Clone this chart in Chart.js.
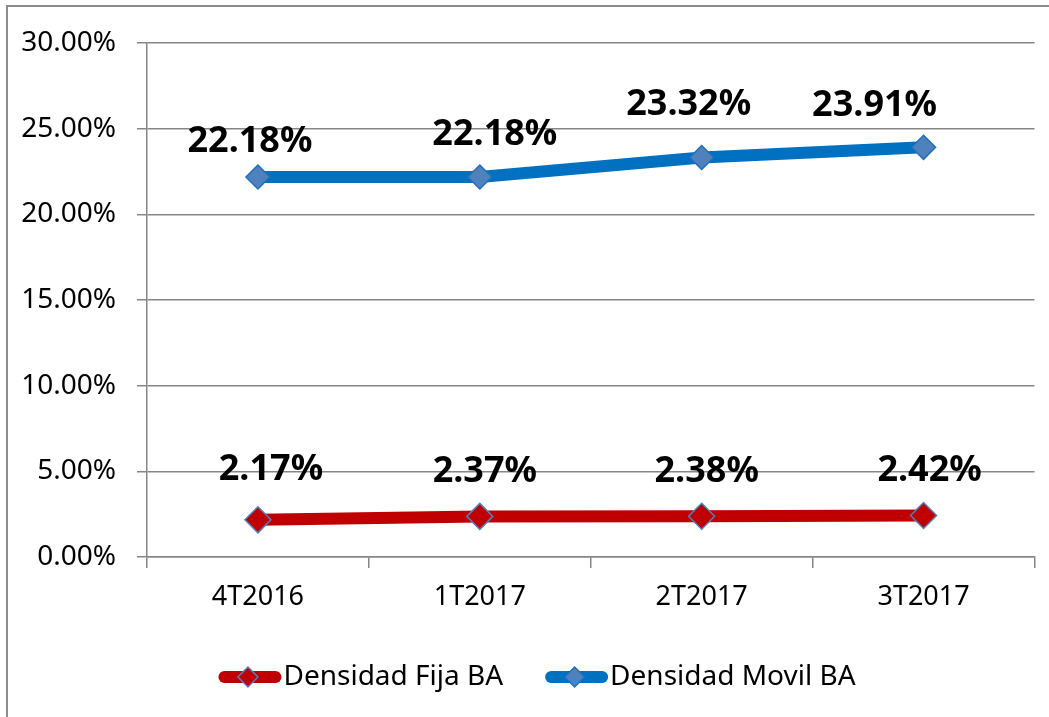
<!DOCTYPE html>
<html>
<head>
<meta charset="utf-8">
<script src="https://cdn.jsdelivr.net/npm/chart.js@4.4.0/dist/chart.umd.min.js"></script>
<style>
html,body{margin:0;padding:0;background:#fff;}
#wrap{position:relative;width:1049px;height:717px;}
canvas{display:block;}
</style>
</head>
<body>
<div id="wrap"><canvas id="c" width="1049" height="717"></canvas></div>
<script>
// ---- data ----
const categories = ['4T2016', '1T2017', '2T2017', '3T2017'];
const seriesNames = ['Densidad Fija BA', 'Densidad Movil BA'];
const fijaValues = [2.17, 2.37, 2.38, 2.42];
const movilValues = [22.18, 22.18, 23.32, 23.91];
const yTickValues = [0, 5, 10, 15, 20, 25, 30];

// label placement nudges (dx, dy above point) – style only
const fijaLabelNudge = [[13, 53], [5, 47], [5, 47], [6, 48]];
const movilLabelNudge = [[-8, 38], [15, 45], [-13, 55], [-49, 44]];

const GRID = '#868686';
const FONT = '"Noto Sans", "Open Sans", sans-serif';

const framePlugin = {
  id: 'frame',
  beforeDraw(chart) {
    const ctx = chart.ctx;
    ctx.save();
    ctx.fillStyle = '#fff';
    ctx.fillRect(0, 0, chart.width, chart.height);
    ctx.strokeStyle = '#8c8c8c';
    ctx.lineWidth = 2;
    ctx.strokeRect(7, 6, 1200, 900);
    ctx.restore();
  }
};

const dataLabelPlugin = {
  id: 'dataLabels',
  afterDatasetsDraw(chart) {
    const ctx = chart.ctx;
    const nudges = [fijaLabelNudge, movilLabelNudge];
    ctx.save();
    ctx.font = 'bold 36px ' + FONT;
    ctx.fillStyle = '#000';
    ctx.textAlign = 'center';
    ctx.textBaseline = 'alphabetic';
    chart.data.datasets.forEach((ds, i) => {
      const meta = chart.getDatasetMeta(i);
      meta.data.forEach((pt, j) => {
        const n = nudges[i][j];
        ctx.fillText(ds.data[j].toFixed(2) + '%', pt.x + n[0], pt.y - n[1] + 13);
      });
    });
    ctx.restore();
  }
};

const legendPlugin = {
  id: 'customLegend',
  afterDraw(chart) {
    const ctx = chart.ctx;
    ctx.save();
    ctx.font = '28px ' + FONT;
    const lineLen = 63, gapText = 2, gapItems = 42;
    const items = chart.data.datasets.map(ds => ({ ds, w: lineLen + gapText + ctx.measureText(ds.label).width }));
    const total = items.reduce((a, b) => a + b.w, 0) + gapItems * (items.length - 1);
    let x = 537 - total / 2;
    const y = 677;
    items.forEach(it => {
      const ds = it.ds;
      ctx.strokeStyle = ds.borderColor;
      ctx.lineWidth = 12;
      ctx.lineCap = 'round';
      ctx.beginPath();
      ctx.moveTo(x + 6, y);
      ctx.lineTo(x + lineLen - 6, y);
      ctx.stroke();
      const cx = x + lineLen / 2 - 2, r = 10;
      ctx.beginPath();
      ctx.moveTo(cx, y - r); ctx.lineTo(cx + r, y); ctx.lineTo(cx, y + r); ctx.lineTo(cx - r, y);
      ctx.closePath();
      ctx.fillStyle = ds.pointBackgroundColor;
      ctx.fill();
      ctx.lineWidth = 1.5;
      ctx.lineCap = 'butt';
      ctx.strokeStyle = ds.pointBorderColor;
      ctx.stroke();
      ctx.fillStyle = '#000';
      ctx.textBaseline = 'middle';
      ctx.textAlign = 'left';
      ctx.fillText(ds.label, x + lineLen + gapText, y);
      x += it.w + gapItems;
    });
    ctx.restore();
  }
};

new Chart(document.getElementById('c'), {
  type: 'line',
  data: {
    labels: categories,
    datasets: [
      {
        label: seriesNames[0],
        data: fijaValues,
        borderColor: '#C00000',
        borderWidth: 12,
        tension: 0,
        pointStyle: 'rectRot',
        pointRadius: 13,
        pointHoverRadius: 13,
        pointBackgroundColor: '#C00000',
        pointBorderColor: '#4F81BD',
        pointBorderWidth: 1.5
      },
      {
        label: seriesNames[1],
        data: movilValues,
        borderColor: '#0070C0',
        borderWidth: 12,
        tension: 0,
        pointStyle: 'rectRot',
        pointRadius: 12,
        pointHoverRadius: 12,
        pointBackgroundColor: '#4F81BD',
        pointBorderColor: '#1F6FBF',
        pointBorderWidth: 1.5
      }
    ]
  },
  options: {
    responsive: false,
    animation: false,
    devicePixelRatio: 1,
    layout: { padding: { left: 0, right: 13, top: 43, bottom: 100 } },
    plugins: {
      legend: { display: false },
      tooltip: { enabled: false },
      title: { display: false }
    },
    scales: {
      x: {
        type: 'category',
        offset: true,
        grid: {
          offset: true,
          drawOnChartArea: false,
          drawTicks: true,
          tickLength: 11,
          color: GRID,
          lineWidth: 1.5
        },
        border: { display: true, color: GRID, width: 1.5 },
        ticks: {
          color: '#000',
          font: { family: FONT, size: 27 },
          padding: 13,
          maxRotation: 0,
          autoSkip: false
        },
        afterFit(scale) { scale.height = 60; }
      },
      y: {
        min: 0,
        max: 30,
        afterBuildTicks(scale) { scale.ticks = yTickValues.map(v => ({ value: v })); },
        grid: {
          color: GRID,
          lineWidth: 1.5,
          drawTicks: true,
          tickLength: 10
        },
        border: { display: true, color: GRID, width: 1.5 },
        ticks: {
          color: '#000',
          font: { family: FONT, size: 28 },
          padding: 21,
          callback: v => Number(v).toFixed(2) + '%'
        },
        afterFit(scale) { scale.width = 147; }
      }
    }
  },
  plugins: [framePlugin, dataLabelPlugin, legendPlugin]
});
</script>
</body>
</html>
